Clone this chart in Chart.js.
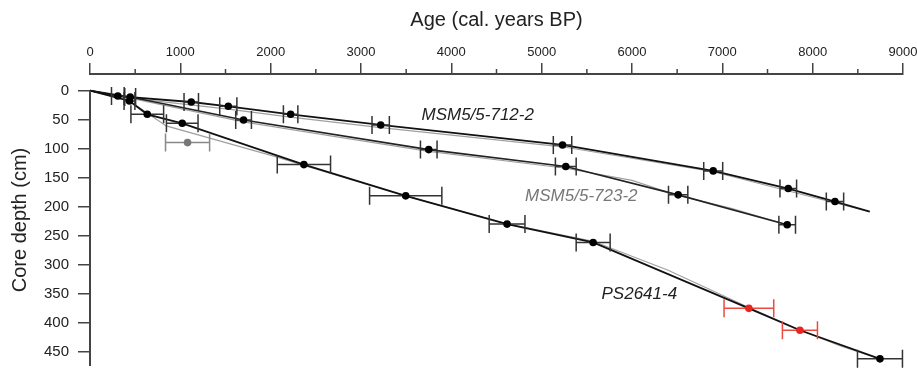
<!DOCTYPE html>
<html>
<head>
<meta charset="utf-8">
<script src="https://cdn.jsdelivr.net/npm/chart.js@4.4.1/dist/chart.umd.min.js"></script>
<style>
  html, body { margin: 0; padding: 0; background: #fff; }
  #wrap { width: 917px; height: 371px; }
</style>
</head>
<body>
<div id="wrap"><canvas id="ageDepth"></canvas></div>
<script>
// axis ticks
var xTicks = [0, 1000, 2000, 3000, 4000, 5000, 6000, 7000, 8000, 9000];
var xMinorTicks = [500, 1500, 2500, 3500, 4500, 5500, 6500, 7500, 8500];
var yTicks = [0, 50, 100, 150, 200, 250, 300, 350, 400, 450];

// MSM5/5-712-2 dated levels: age (cal. years BP), depth (cm), error (years)
var ages712 = [308, 1121, 1531, 2221, 3218, 5231, 6899, 7730, 8247];
var depths712 = [9.5, 19.8, 27.2, 41, 59.4, 93.8, 138.6, 169, 191.4];
var errs712 = [70, 80, 95, 80, 96, 102, 105, 92, 96];
var modelAges712 = [0, 308, 1121, 1531, 2221, 3218, 5231, 6899, 7730, 8247, 8632];
var modelDepths712 = [0, 9.5, 19.8, 27.2, 41, 59.4, 93.8, 138.6, 169, 191.4, 209];
var altAges712 = [0, 445, 1531, 2221, 3218, 5231, 6899, 8632];
var altDepths712 = [0, 13, 32, 46, 64, 97, 140, 209];

// MSM5/5-723-2
var ages723 = [445, 1700, 3750, 5267, 6511, 7718];
var depths723 = [11.2, 50.8, 101.9, 131, 179.9, 231.5];
var errs723 = [60, 87, 92, 115, 107, 92];
var modelAges723 = [0, 445, 1700, 3750, 5267, 6511, 7718];
var modelDepths723 = [0, 11.2, 50.8, 101.9, 131, 179.9, 231.5];
var altAges723 = [0, 445, 1700, 2700, 3750, 5267, 6000, 6511, 7100, 7718];
var altDepths723 = [0, 13, 54, 79, 105, 134, 155, 181, 203, 231.5];

// PS2641-4
var agesPS = [437, 634, 1021, 2368, 3495, 4617, 5570, 8745];
var depthsPS = [18, 41, 56.5, 127.7, 181.6, 230.3, 262, 462.7];
var errsPS = [60, 181, 175, 295, 400, 198, 188, 249];
var agesRed = [7294, 7859];
var depthsRed = [375.6, 413.4];
var errsRed = [275, 194];
var agesOutlier = [1080];
var depthsOutlier = [89.8];
var errsOutlier = [244];
var modelAgesPS = [0, 437, 634, 1021, 2368, 3495, 4617, 5570, 7294, 7859, 8745];
var modelDepthsPS = [0, 18, 41, 56.5, 127.7, 181.6, 230.3, 262, 375.6, 413.4, 462.7];
var altAgesPS = [0, 437, 844, 2063, 2368, 3495, 4617, 5570, 6400, 7294, 7859, 8300, 8745];
var altDepthsPS = [0, 18, 61, 114.5, 129, 181.6, 230, 260, 310, 374, 413, 440, 462.7];

// core names written next to the curves
var coreNames = ["MSM5/5-712-2", "MSM5/5-723-2", "PS2641-4"];
var nameAges = [4292, 5439, 6081];
var nameDepths = [42, 183, 351];
var nameColors = ["#222", "#777", "#222"];

function pts(xs, ys) {
    return xs.map(function (x, i) { return { x: x, y: ys[i] }; });
}

function modelLine(xs, ys, color, width, order) {
    return {
        data: pts(xs, ys), showLine: true, borderColor: color, borderWidth: width,
        pointRadius: 0, tension: 0, order: order
    };
}

function dated(xs, ys, errs, color, barColor) {
    return {
        data: pts(xs, ys), showLine: false, pointRadius: 3.8, pointHoverRadius: 3.8,
        pointBackgroundColor: color, pointBorderWidth: 0, errors: errs, errorColor: barColor,
        order: 1, clip: false
    };
}

// horizontal error bars with end caps, drawn under the dots
var errorBars = {
    id: 'errorBars',
    beforeDatasetDraw: function (chart, args) {
        var ds = chart.data.datasets[args.index];
        if (!ds.errors) return;
        var ctx = chart.ctx, xs = chart.scales.x, ys = chart.scales.y;
        ctx.save();
        ctx.strokeStyle = ds.errorColor;
        ctx.lineWidth = 1.5;
        ds.data.forEach(function (p, i) {
            var x0 = xs.getPixelForValue(p.x - ds.errors[i]);
            var x1 = xs.getPixelForValue(p.x + ds.errors[i]);
            var y = ys.getPixelForValue(p.y);
            ctx.beginPath();
            ctx.moveTo(x0, y); ctx.lineTo(x1, y);
            ctx.moveTo(x0, y - 9); ctx.lineTo(x0, y + 9);
            ctx.moveTo(x1, y - 9); ctx.lineTo(x1, y + 9);
            ctx.stroke();
        });
        ctx.restore();
    }
};

// depth axis line starts at 0, plus short half-thousand ticks on the age axis
var axisExtras = {
    id: 'axisExtras',
    afterDraw: function (chart) {
        var ctx = chart.ctx, xs = chart.scales.x, ys = chart.scales.y, area = chart.chartArea;
        ctx.save();
        ctx.strokeStyle = '#444';
        ctx.lineWidth = 2;
        ctx.beginPath();
        ctx.moveTo(area.left, ys.getPixelForValue(0));
        ctx.lineTo(area.left, area.bottom);
        ctx.stroke();
        ctx.lineWidth = 1.5;
        xMinorTicks.forEach(function (v) {
            var x = xs.getPixelForValue(v);
            ctx.beginPath();
            ctx.moveTo(x, area.top);
            ctx.lineTo(x, area.top - 5);
            ctx.stroke();
        });
        ctx.restore();
    }
};

var coreLabels = {
    id: 'coreLabels',
    afterDatasetsDraw: function (chart) {
        var ctx = chart.ctx, xs = chart.scales.x, ys = chart.scales.y;
        ctx.save();
        ctx.font = 'italic 17px "Liberation Sans", Arial, sans-serif';
        ctx.textAlign = 'center';
        ctx.textBaseline = 'middle';
        coreNames.forEach(function (name, i) {
            ctx.fillStyle = nameColors[i];
            ctx.fillText(name, xs.getPixelForValue(nameAges[i]), ys.getPixelForValue(nameDepths[i]));
        });
        ctx.restore();
    }
};

var datasets = [
    modelLine(altAges712, altDepths712, '#a0a0a0', 1.2, 3),
    modelLine(altAges723, altDepths723, '#a0a0a0', 1.2, 3),
    modelLine(altAgesPS, altDepthsPS, '#a0a0a0', 1.2, 3),
    modelLine(modelAges712, modelDepths712, '#111', 1.8, 2),
    modelLine(modelAges723, modelDepths723, '#222', 1.6, 2),
    modelLine(modelAgesPS, modelDepthsPS, '#111', 1.8, 2),
    dated(ages712, depths712, errs712, '#000', '#333'),
    dated(ages723, depths723, errs723, '#000', '#333'),
    dated(agesPS, depthsPS, errsPS, '#000', '#333'),
    dated(agesOutlier, depthsOutlier, errsOutlier, '#777', '#888'),
    dated(agesRed, depthsRed, errsRed, '#e8261f', '#ec4a40')
];

var fam = '"Liberation Sans", Arial, sans-serif';
var titleFont = { family: fam, size: 20 };

new Chart(document.getElementById('ageDepth'), {
    type: 'scatter',
    data: { datasets: datasets },
    options: {
        responsive: true,
        maintainAspectRatio: false,
        animation: false,
        devicePixelRatio: 1,
        layout: { padding: { left: 0, right: 14, top: 0, bottom: 5 } },
        plugins: { legend: { display: false }, tooltip: { enabled: false } },
        scales: {
            x: {
                type: 'linear', position: 'top', min: 0, max: 9000,
                afterBuildTicks: function (scale) { scale.ticks = xTicks.map(function (v) { return { value: v }; }); },
                afterFit: function (scale) {
                    scale.height = 74;
                    scale.paddingLeft = 0;
                    scale.paddingRight = 0;
                },
                ticks: {
                    font: { family: fam, size: 13 }, color: '#222', padding: 3, maxRotation: 0,
                    callback: function (v) { return String(v); }
                },
                grid: { drawOnChartArea: false, tickLength: 11, color: '#444', lineWidth: 1.5 },
                border: { color: '#444', width: 2 },
                title: { display: true, text: 'Age (cal. years BP)', font: titleFont, color: '#222', padding: { top: 8, bottom: 0 } }
            },
            y: {
                type: 'linear', reverse: true, min: -28.5, max: 475,
                afterBuildTicks: function (scale) { scale.ticks = yTicks.map(function (v) { return { value: v }; }); },
                afterFit: function (scale) {
                    scale.width = 90;
                    scale.paddingTop = 0;
                    scale.paddingBottom = 0;
                },
                ticks: { font: { family: fam, size: 15 }, color: '#222', padding: 9 },
                grid: { drawOnChartArea: false, tickLength: 12, color: '#444', lineWidth: 1.5 },
                border: { display: false },
                title: { display: true, text: 'Core depth (cm)', font: titleFont, color: '#222', padding: { top: 8, bottom: 0 } }
            }
        }
    },
    plugins: [errorBars, axisExtras, coreLabels]
});
</script>
</body>
</html>
